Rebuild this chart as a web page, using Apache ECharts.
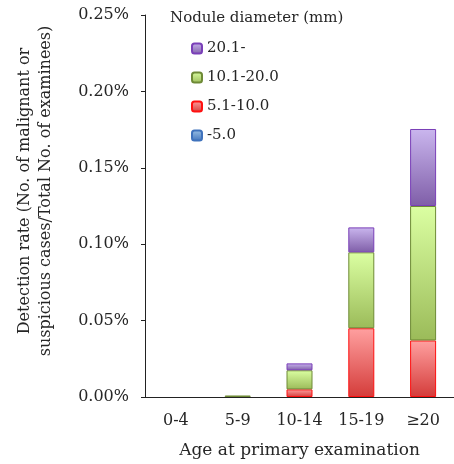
<!DOCTYPE html>
<html>
<head>
<meta charset="utf-8">
<script src="https://cdn.jsdelivr.net/npm/echarts@6/dist/echarts.min.js"></script>
<style>
  html, body { margin: 0; padding: 0; background: #fff; }
  #myChart { width: 454px; height: 464px; }
</style>
</head>
<body>
<div id="myChart"></div>
<script>
  // data (detection rate, %)
  var categories = ['0-4', '5-9', '10-14', '15-19', '≥20'];
  var sizeUpTo5 = [0, 0, 0, 0, 0];
  var size5to10 = [0, 0, 0.005, 0.045, 0.037];
  var size10to20 = [0, 0.001, 0.0125, 0.0497, 0.088];
  var size20up = [0, 0, 0.0045, 0.0163, 0.0504];
  var yTicks = [0, 0.05, 0.10, 0.15, 0.20, 0.25];

  var font = '"DejaVu Serif", serif';
  var txt = '#262626';

  function grad(top, bottom) {
    return new echarts.graphic.LinearGradient(0, 0, 0, 1, [
      { offset: 0, color: top },
      { offset: 1, color: bottom }
    ]);
  }

  function bar(name, data, top, bottom, border) {
    return {
      name: name,
      type: 'bar',
      stack: 'all',
      barWidth: 26,
      // zero segments are not drawn (no border line)
      data: data.map(function (v) { return v === 0 ? '-' : v; }),
      itemStyle: { color: grad(top, bottom), borderColor: border, borderWidth: 1 }
    };
  }

  var myChart = echarts.init(document.getElementById('myChart'));
  myChart.setOption({
    animation: false,
    textStyle: { fontFamily: font, color: txt },
    title: {
      text: 'Nodule diameter (mm)',
      left: 165,
      top: 6,
      textStyle: { fontFamily: font, fontSize: 15, fontWeight: 'normal', color: txt }
    },
    legend: {
      orient: 'vertical',
      left: 186,
      top: 36,
      itemWidth: 10,
      itemHeight: 10,
      itemGap: 14,
      data: ['20.1-', '10.1-20.0', '5.1-10.0', '-5.0'],
      textStyle: { fontFamily: font, fontSize: 15, color: txt, padding: [0, 0, 0, 0] }
    },
    grid: { left: 145, top: 15, width: 313, height: 382 },
    graphic: [{
      type: 'text',
      x: 35,
      y: 191,
      rotation: Math.PI / 2,
      style: {
        text: 'Detection rate (No. of malignant or\nsuspicious cases/Total No. of examinees)',
        font: '16px ' + font,
        fill: txt,
        align: 'center',
        verticalAlign: 'middle',
        lineHeight: 21
      }
    }],
    xAxis: {
      type: 'category',
      data: categories,
      name: 'Age at primary examination',
      nameLocation: 'middle',
      nameGap: 45,
      nameTextStyle: { fontFamily: font, fontSize: 17, color: txt },
      axisLine: { lineStyle: { color: '#222', width: 1 } },
      axisTick: { length: 5, lineStyle: { color: '#222' } },
      axisLabel: { fontFamily: font, fontSize: 16, color: txt, margin: 16 }
    },
    yAxis: {
      type: 'value',
      min: 0,
      max: 0.25,
      interval: 0.05,
      splitLine: { show: false },
      axisLine: { show: true, lineStyle: { color: '#222', width: 1 } },
      axisTick: { show: true, length: 4, lineStyle: { color: '#222' } },
      axisLabel: {
        fontFamily: font,
        fontSize: 16,
        color: txt,
        margin: 16,
        formatter: function (v) { return yTicks.indexOf(Math.round(v * 100) / 100) >= 0 ? v.toFixed(2) + '%' : ''; }
      }
    },
    series: [
      bar('-5.0', sizeUpTo5, '#9DC3E6', '#3F72BC', '#3F72BC'),
      bar('5.1-10.0', size5to10, '#FFA0A0', '#D43C3A', '#FF1010'),
      bar('10.1-20.0', size10to20, '#DBFFA2', '#9BBB59', '#6E8A36'),
      bar('20.1-', size20up, '#CAB6EE', '#7F5EA8', '#7A3FB8')
    ]
  });
</script>
</body>
</html>
